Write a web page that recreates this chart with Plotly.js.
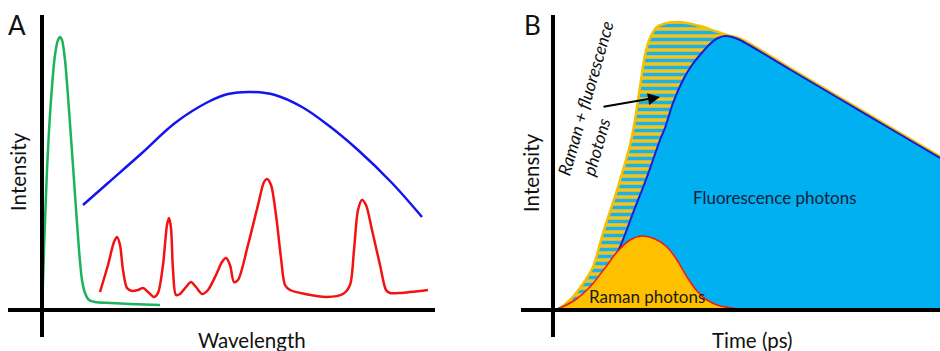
<!DOCTYPE html>
<html><head><meta charset="utf-8">
<script src="https://cdn.plot.ly/plotly-3.0.1.min.js"></script>
<style>html,body{margin:0;padding:0;background:#fff}#chart{width:940px;height:351px}</style>
</head><body><div id="chart"></div>
<script>
// Panel A: spectra (arbitrary wavelength / intensity units)
const greenX = [0,2,5,9,13,16,18,20,23,27,32,37,40,43,47,53,68,88,118];
const greenY = [0,60,140,210,255,270,273,270,250,200,130,60,30,17,10,8,7,6,5];
const blueX = [41,66,100,133,166,186,210,233,260,286,316,350,380];
const blueY = [105,127,157,187,208,216,218,215,203,185,160,127,93];
const redX = [58,66,72,75,78,81,85,90,96,101,106,112,116,121,125,127,129,131,134,138,144,149,154,160,166,174,180,184,188,192,196,206,216,222,225,229,234,239,243,248,263,285,301,308,312,316,320,324,330,338,344,348,358,386];
const redY = [18,45,68,73,65,40,22,19,20,22,18,13,17,45,85,92,82,40,15,16,23,28,23,16,20,35,48,52,45,28,30,65,105,128,131,125,95,52,25,20,16,13,16,25,60,100,110,105,80,45,20,17,17,20];

// Panel B: time-resolved photons (arbitrary time / intensity units)
const envX = [2,7,17,27,40,50,64,77,82,87,92,97,104,114,127,147,162,174,187,237,287,337,389];
const envY = [0,2,10,22,43,77,120,165,190,223,255,272,283,287,288,284,279,275,271.5,242,212.5,183,152.5];
const fluoX = [2,22,37,52,67,80,94,107,112,120,130,139,147,157,165,172,179,187,237,287,337,389];
const fluoY = [0,7,18,35,63,97,133,170,182,207,230,245,255,266,272,274,273,270,240.5,211,181.5,151];
const ramanX = [2,7,22,37,52,64,77,89,102,114,124,134,144,154,167,180,185];
const ramanY = [0,2,10,23,42,58,70,74,71,63,50,33,19,10,4,2,0];

const FONT = 'Lato, "Open Sans", sans-serif';

const traces = [
  {x: greenX, y: greenY, xaxis:'x', yaxis:'y', mode:'lines', line:{color:'#1db35a', width:2.5, shape:'spline', smoothing:0.8}},
  {x: blueX, y: blueY, xaxis:'x', yaxis:'y', mode:'lines', line:{color:'#1414f0', width:2.5, shape:'spline', smoothing:1}},
  {x: redX, y: redY, xaxis:'x', yaxis:'y', mode:'lines', line:{color:'#f21212', width:2.5, shape:'spline', smoothing:0.8}},
  {x: envX, y: envY, xaxis:'x2', yaxis:'y2', mode:'lines', fill:'tozeroy',
   fillcolor:'#ffc000',
   fillpattern:{shape:'-', bgcolor:'#f5c21a', fgcolor:'#1ab2ea', size:7, solidity:0.5},
   line:{color:'#f5c000', width:2.5, shape:'spline', smoothing:0.8}},
  {x: fluoX, y: fluoY, xaxis:'x2', yaxis:'y2', mode:'lines', fill:'tozeroy', fillcolor:'#00b0f0',
   line:{color:'#1a1ad2', width:2, shape:'spline', smoothing:0.8}},
  {x: ramanX, y: ramanY, xaxis:'x2', yaxis:'y2', mode:'lines', fill:'tozeroy', fillcolor:'#ffc000',
   line:{color:'#ee1c1c', width:1.6, shape:'spline', smoothing:0.8}}
];

const hide = {visible:true, showgrid:false, zeroline:false, showticklabels:false, ticks:'', showline:false, fixedrange:true};
const yDom = [14/351, 336/351];

function lbl(text, px, py, size, extra) {
  return Object.assign({text:text, xref:'paper', yref:'paper', x:px/940, y:1-py/351,
    xanchor:'center', yanchor:'middle', showarrow:false, font:{family:FONT, size:size, color:'#111'}}, extra||{});
}

const layout = {
  width:940, height:351, margin:{l:0,r:0,t:0,b:0}, paper_bgcolor:'#fff', plot_bgcolor:'rgba(0,0,0,0)',
  showlegend:false,
  xaxis: Object.assign({}, hide, {domain:[8/940, 435/940], range:[-34, 393]}),
  yaxis: Object.assign({}, hide, {domain:yDom, range:[-27, 295]}),
  xaxis2: Object.assign({}, hide, {domain:[521/940, 1], range:[-32, 387], anchor:'y2'}),
  yaxis2: Object.assign({}, hide, {domain:yDom, range:[-27, 295], anchor:'x2'}),
  shapes: [
    {type:'line', xref:'x domain', x0:0, x1:1, yref:'y', y0:0, y1:0, line:{color:'#000', width:4}, layer:'above'},
    {type:'line', xref:'x', x0:0, x1:0, yref:'y domain', y0:0, y1:1, line:{color:'#000', width:4}, layer:'above'},
    {type:'line', xref:'x2 domain', x0:0, x1:1, yref:'y2', y0:0, y1:0, line:{color:'#000', width:4}, layer:'above'},
    {type:'line', xref:'x2', x0:0, x1:0, yref:'y2 domain', y0:0, y1:1, line:{color:'#000', width:4}, layer:'above'}
  ],
  annotations: [
    lbl('A', 17, 25, 26),
    lbl('Intensity', 18, 172, 20.5, {textangle:-90}),
    lbl('Wavelength', 252, 340, 20.5),
    lbl('B', 532, 25, 26),
    lbl('Intensity', 531, 173, 20.5, {textangle:-90}),
    lbl('Time (ps)', 752, 340, 20.5),
    lbl('Fluorescence photons', 775, 197, 17, {font:{family:FONT, size:17, color:'#14213a'}}),
    lbl('Raman photons', 647, 296, 17, {font:{family:FONT, size:17, color:'#1a1a1a'}}),
    lbl('<i>Raman + fluorescence</i>', 585.5, 98.5, 17.5, {textangle:-74}),
    lbl('<i>photons</i>', 596.7, 146.7, 17.5, {textangle:-74}),
    {text:'', xref:'paper', yref:'paper', x:660/940, y:1-97/351, ax:-58, ay:10, axref:'pixel', ayref:'pixel',
     showarrow:true, arrowhead:2, arrowsize:1.2, arrowwidth:2, arrowcolor:'#000'}
  ]
};

Plotly.newPlot('chart', traces, layout, {staticPlot:true, displayModeBar:false});
</script></body></html>
